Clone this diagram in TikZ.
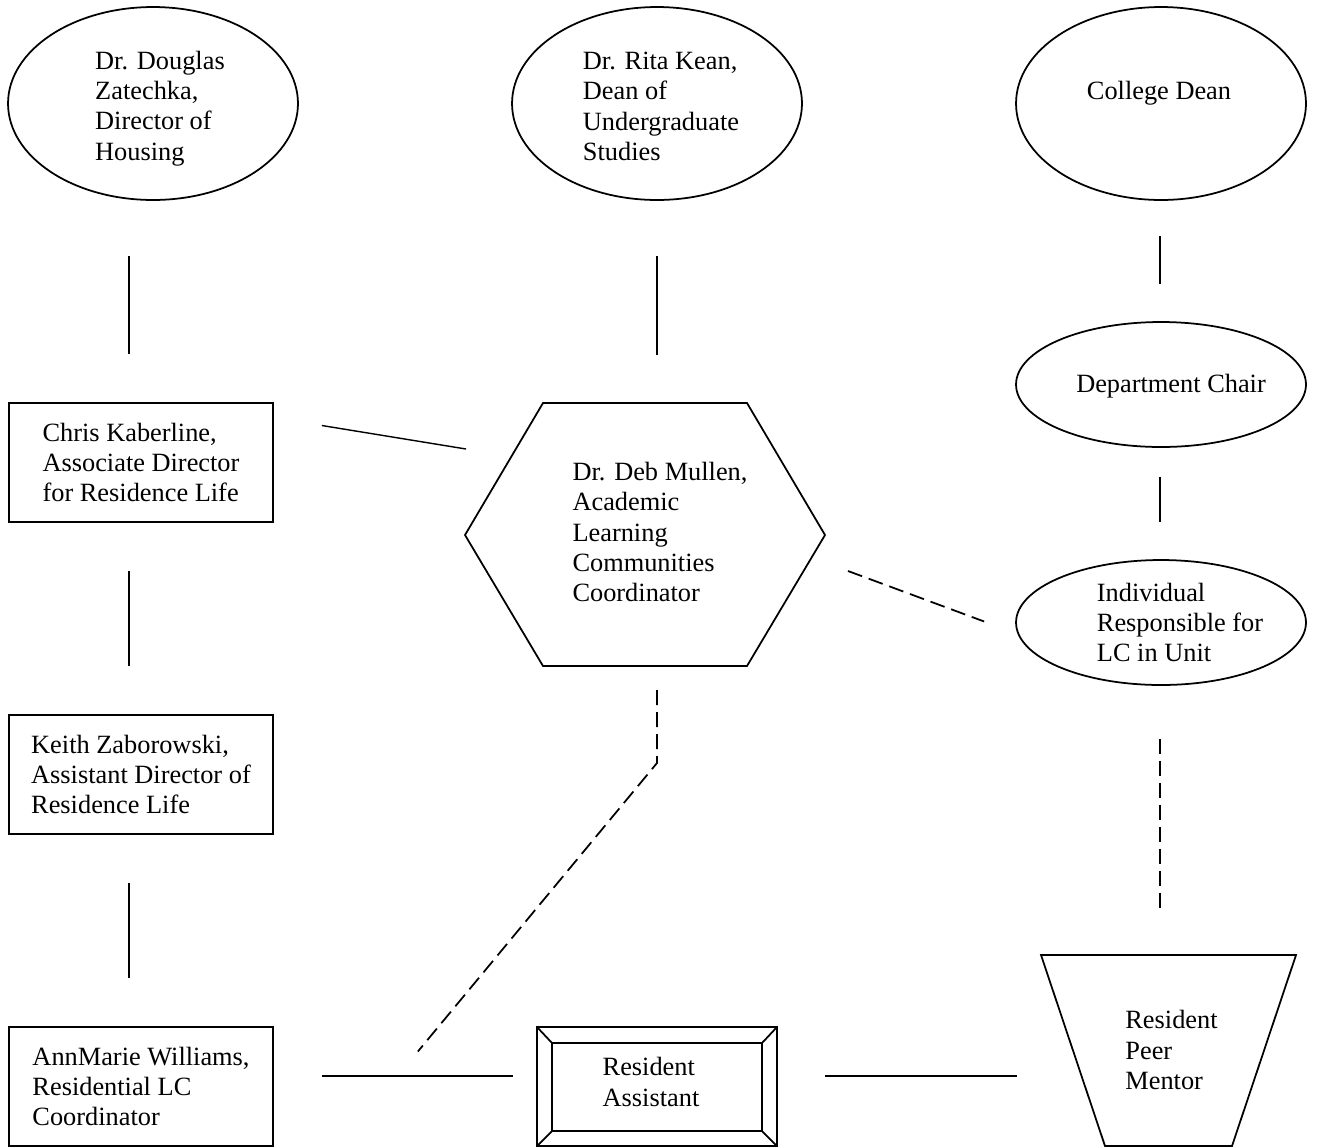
\documentclass[tikz,border=0pt]{standalone}
\usepackage{fontspec}
\setmainfont{Liberation Serif}
\usetikzlibrary{shapes.geometric,calc}

\begin{document}
\begin{tikzpicture}[x=0.02cm,y=-0.02cm,line width=0.75pt,
  every node/.style={font=\fontsize{15}{17.2}\selectfont,align=left},
  oval/.style={draw,ellipse,line width=1pt,inner sep=0pt,minimum width=5.8cm,minimum height=3.86cm},
  smalloval/.style={oval,minimum height=2.5cm},
  card/.style={draw,rectangle,line width=1pt,inner sep=0pt,minimum width=5.28cm,minimum height=2.38cm},
  outline/.style={line width=1pt},
  link/.style={line width=0.8pt},
  dlink/.style={line width=1pt,dash pattern=on 0.3cm off 0.14cm}]
\useasboundingbox (0,0) rectangle (1334,1147);
% top row
\node[oval,label={[shift={(7,5)}]center:Dr. Douglas\\Zatechka,\\Director of\\Housing}]
  (doug) at (153,103.5) {};
\node[oval,label={[shift={(4,3)}]center:Dr. Rita Kean,\\Dean of\\Undergraduate\\Studies}]
  (rita) at (657,103.5) {};
\node[oval,label={[shift={(-2,-10)}]center:College Dean}] (dean) at (1161,103.5) {};
% right column
\node[smalloval,label={[shift={(10,2)}]center:Department Chair}] (chair) at (1161,384.5) {};
\node[smalloval,label={[shift={(19,0)}]center:Individual\\Responsible for\\LC in Unit}]
  (indiv) at (1161,622.5) {};
% left column
\node[card] (chris) at (141,462.5) {Chris Kaberline,\\Associate Director\\for Residence Life};
\node[card] (keith) at (141,774.5) {Keith Zaborowski,\\Assistant Director of\\Residence Life};
\node[card] (ann) at (141,1086.5) {AnnMarie Williams,\\Residential LC\\Coordinator};
% centre (hexagon)
\node (deb) at (660,532) {Dr. Deb Mullen,\\Academic\\Learning\\Communities\\Coordinator};
\draw[outline] (deb.center) ++(-195,3) -- ++(78,-132) -- ++(204,0) -- ++(78,132)
  -- ++(-78,131) -- ++(-204,0) -- cycle;
% resident assistant (bevel)
\node (ra) at (651,1082) {Resident\\Assistant};
\draw[outline] ($(ra.center)+(-114,-55)$) rectangle ($(ra.center)+(126,64)$);
\draw[outline] ($(ra.center)+(-99,-39)$) rectangle ($(ra.center)+(111,49)$);
\foreach \ox/\oy/\ix/\iy in {-114/-55/-99/-39,126/-55/111/-39,126/64/111/49,-114/64/-99/49}
  \draw[outline] ($(ra.center)+(\ox,\oy)$) -- ($(ra.center)+(\ix,\iy)$);
% peer mentor (trapezium)
\node (peer) at (1171.5,1050) {Resident\\Peer\\Mentor};
\draw[outline] (peer.center) ++(-130.5,-95) -- ++(255,0) -- ++(-64,191) -- ++(-127,0) -- cycle;
% solid links
\draw[link] ($(doug.south)+(-24,55)$) -- ($(chris.north)+(-12,-48)$);
\draw[link] ($(chris.south)+(-12,48)$) -- ($(keith.north)+(-12,-48)$);
\draw[link] ($(keith.south)+(-12,48)$) -- ($(ann.north)+(-12,-48)$);
\draw[link] ($(rita.south)+(0,55)$) -- ($(deb.center)+(-3,-177)$);
\draw[link] ($(dean.south)+(-1,35)$) -- ($(chair.north)+(-1,-37)$);
\draw[link] ($(chair.south)+(-1,29)$) -- ($(indiv.north)+(-1,-37)$);
\draw[link] ($(chris.east)+(48,-37)$) -- ($(deb.center)+(-194,-83)$);
\draw[link] ($(ann.east)+(48,-10.5)$) -- ($(ra.center)+(-138,-6)$);
\draw[link] ($(ra.center)+(174,-6)$) -- ($(peer.center)+(-154.5,26)$);
% dashed links
\draw[dlink] ($(indiv.south)+(-1,53)$) -- ($(peer.center)+(-11.5,-142)$);
\draw[dlink] ($(deb.center)+(188,39)$) -- ($(indiv.west)+(-31,-1)$);
\draw[dlink] ($(deb.center)+(-3,158)$) -- ($(deb.center)+(-3,231)$) -- ($(ann.east)+(144,-35)$);
\end{tikzpicture}
\end{document}
